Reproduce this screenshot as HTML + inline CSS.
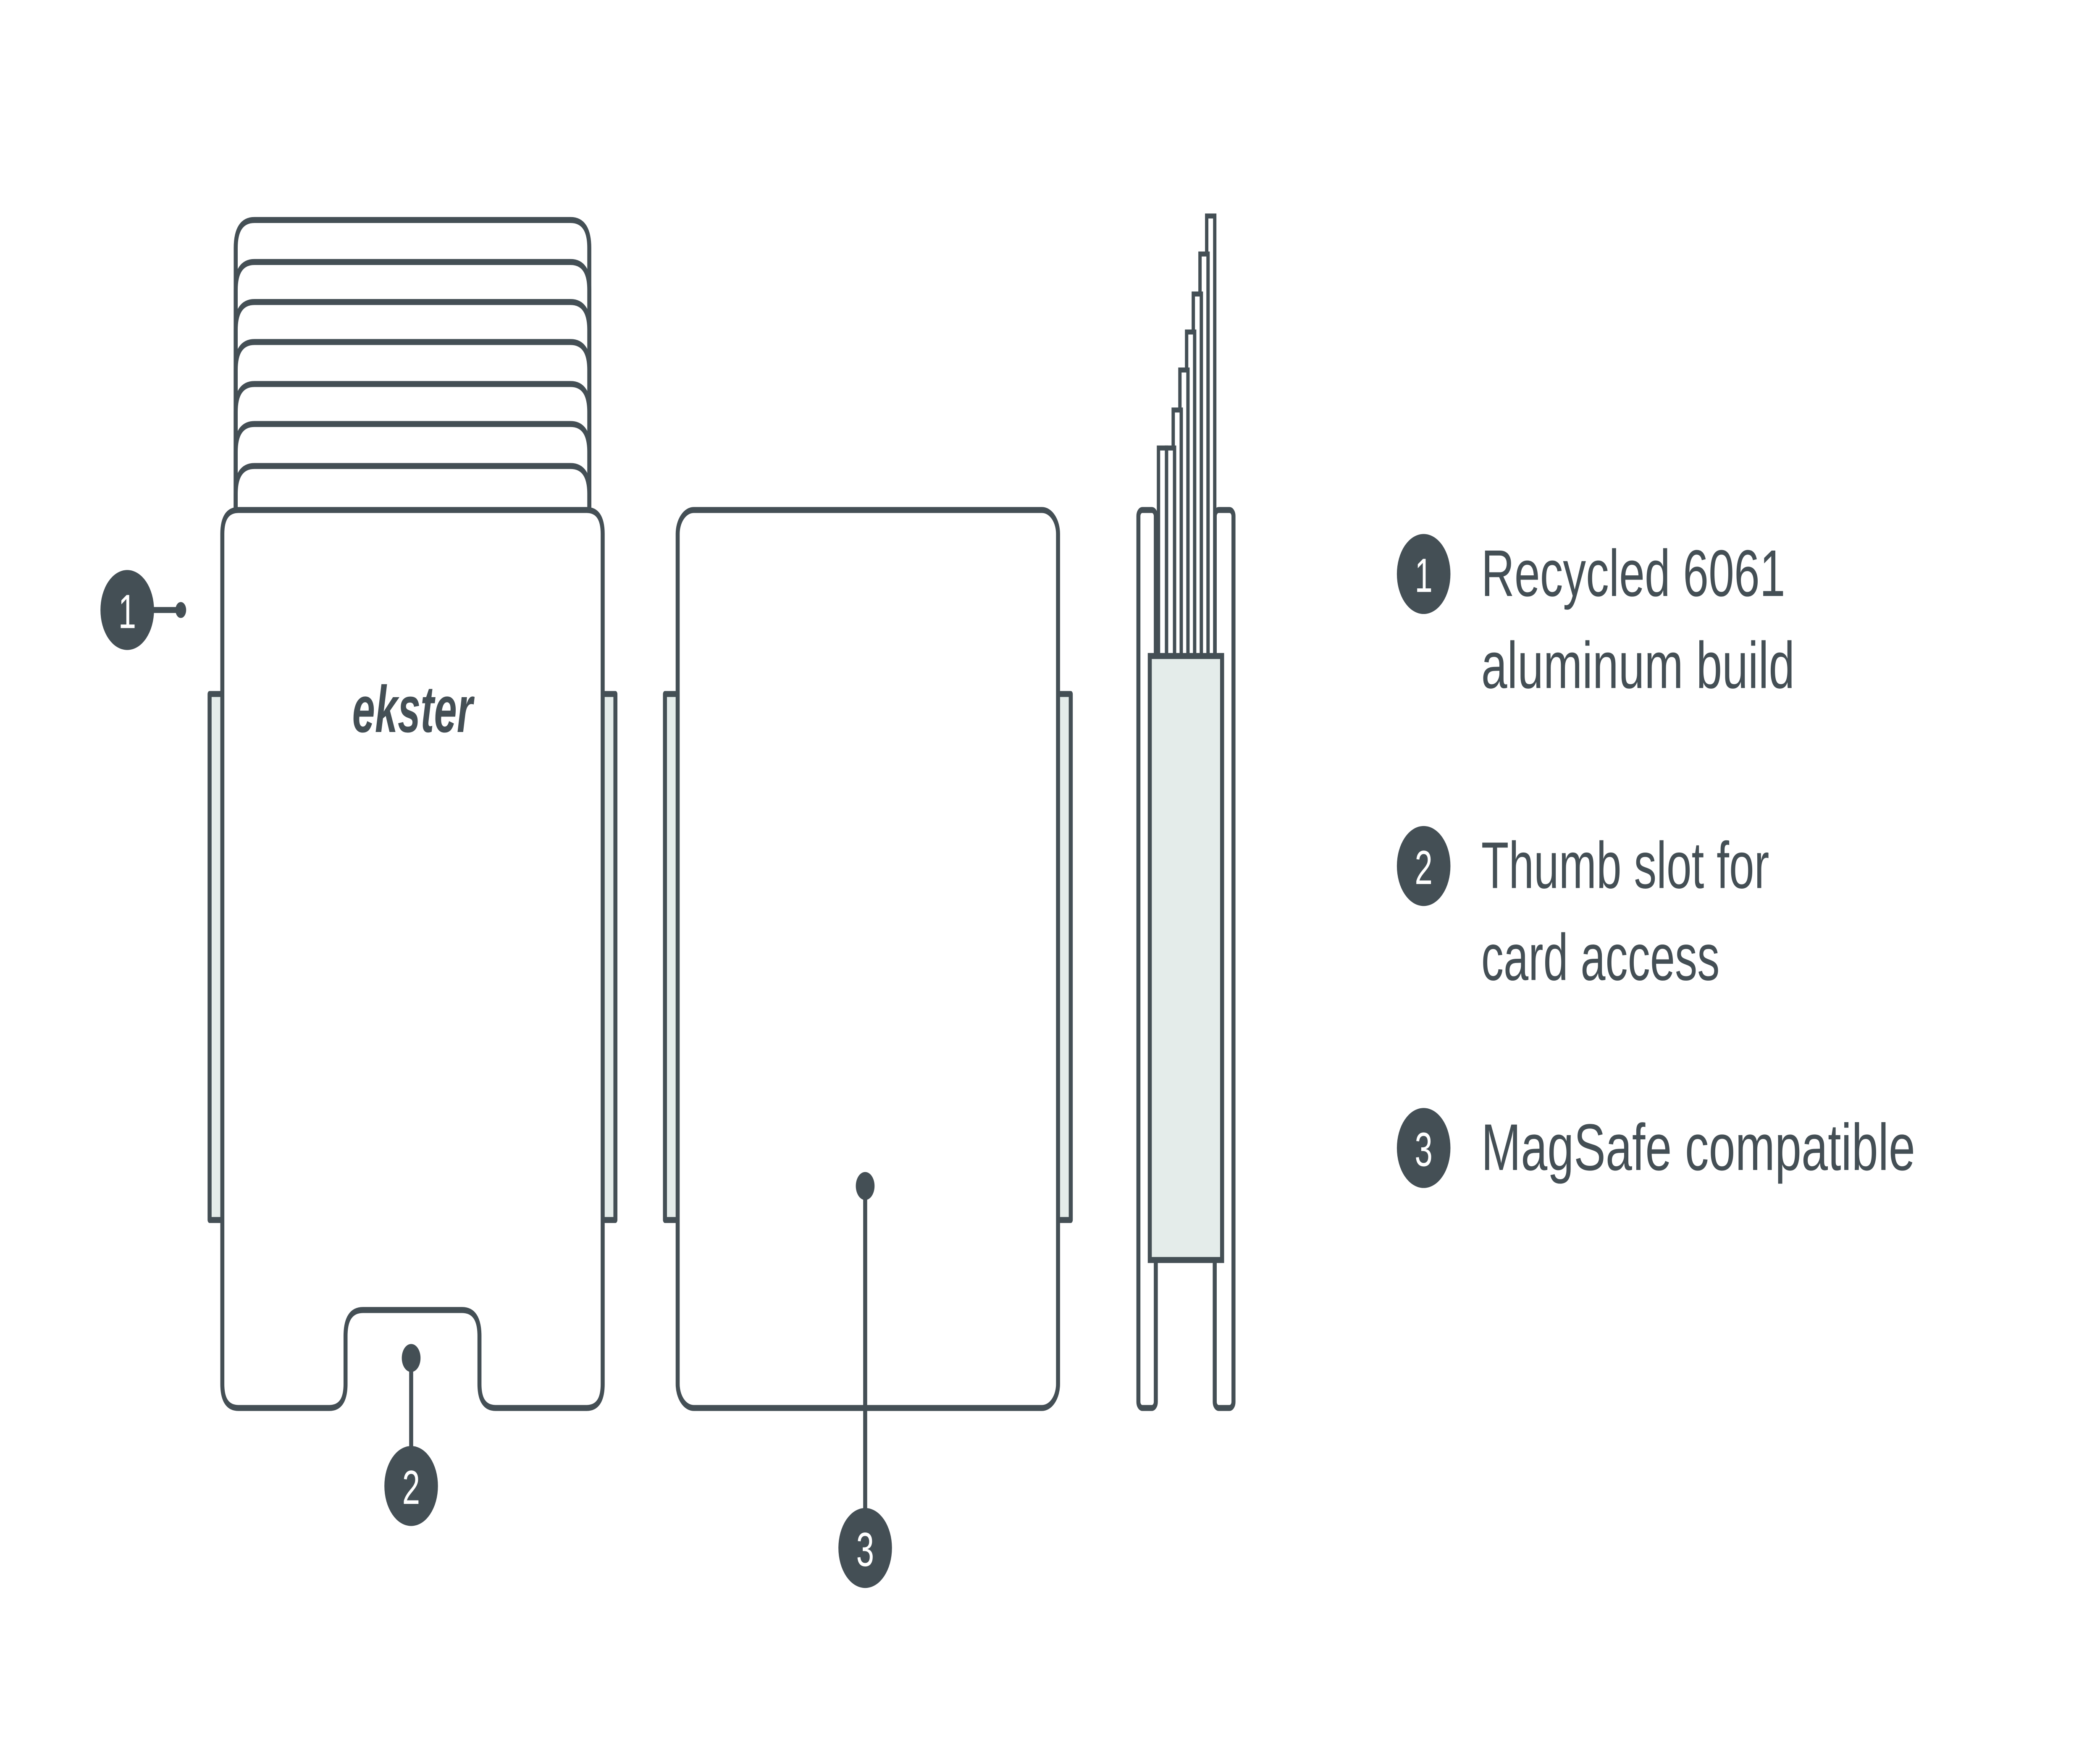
<!DOCTYPE html>
<html><head><meta charset="utf-8">
<style>html,body{margin:0;padding:0;background:#fff;overflow:hidden;width:100%;height:100%}svg{display:block;width:100vw;height:100vh}</style></head>
<body>
<svg viewBox="0 0 1568 875" preserveAspectRatio="none" xmlns="http://www.w3.org/2000/svg">
<g fill="none" stroke="#444f55" stroke-width="3" stroke-linejoin="round">
<rect x="156.5" y="347" width="10" height="263" fill="#e4ecea"/>
<rect x="449.5" y="347" width="10" height="263" fill="#e4ecea"/>
<path d="M176 300 V124 Q176 110 190 110 H426 Q440 110 440 124 V300" fill="#fff"/>
<path d="M176 300 V145 Q176 131 190 131 H426 Q440 131 440 145 V300" fill="#fff"/>
<path d="M176 300 V165 Q176 151 190 151 H426 Q440 151 440 165 V300" fill="#fff"/>
<path d="M176 300 V185 Q176 171 190 171 H426 Q440 171 440 185 V300" fill="#fff"/>
<path d="M176 300 V206 Q176 192 190 192 H426 Q440 192 440 206 V300" fill="#fff"/>
<path d="M176 300 V226 Q176 212 190 212 H426 Q440 212 440 226 V300" fill="#fff"/>
<path d="M176 300 V247 Q176 233 190 233 H426 Q440 233 440 247 V300" fill="#fff"/>
<path d="M178 255 H438 Q450 255 450 267 V692 Q450 704 438 704 H370 Q358 704 358 692 V668 Q358 655 345 655 H271 Q258 655 258 668 V692 Q258 704 246 704 H178 Q166 704 166 692 V267 Q166 255 178 255 Z" fill="#fff"/>
<rect x="496.5" y="347" width="10" height="263" fill="#e4ecea"/>
<rect x="789.5" y="347" width="10" height="263" fill="#e4ecea"/>
<rect x="506" y="255" width="284" height="449" rx="12" fill="#fff"/>
<rect x="850" y="255" width="13" height="449" rx="3" fill="#fff"/>
<rect x="907" y="255" width="14" height="449" rx="3" fill="#fff"/>
</g>
<g fill="#fff" stroke="#444f55" stroke-width="2.5">
<rect x="901" y="108" width="6" height="222"/>
<rect x="896" y="127" width="6" height="203"/>
<rect x="891" y="147" width="6" height="183"/>
<rect x="886" y="166" width="6" height="164"/>
<rect x="881" y="185" width="6" height="145"/>
<rect x="876" y="205" width="6" height="125"/>
<rect x="871" y="224" width="6" height="106"/>
<rect x="865" y="224" width="6" height="106"/>
</g>
<rect x="858.5" y="328" width="54" height="302" fill="#e4ecea" stroke="#444f55" stroke-width="3"/>
<text x="263" y="366" font-family="Liberation Sans, sans-serif" font-weight="bold" font-style="italic" font-size="33" fill="#444f55" textLength="90" lengthAdjust="spacingAndGlyphs">ekster</text>
<g stroke="#444f55" stroke-width="3">
<line x1="110" y1="305" x2="135" y2="305"/>
<line x1="307" y1="679" x2="307" y2="725"/>
<line x1="646" y1="593" x2="646" y2="756"/>
</g>
<g fill="#444f55">
<circle cx="135" cy="305" r="4"/>
<circle cx="307" cy="679" r="7"/>
<circle cx="646" cy="593" r="7"/>
<circle cx="95" cy="305" r="20"/>
<circle cx="307" cy="743" r="20"/>
<circle cx="646" cy="774" r="20"/>
<circle cx="1063" cy="287" r="20"/>
<circle cx="1063" cy="433" r="20"/>
<circle cx="1063" cy="574" r="20"/>
</g>
<g font-family="Liberation Sans, sans-serif" font-size="24" fill="#fff" text-anchor="middle">
<text x="95" y="314">1</text>
<text x="307" y="752">2</text>
<text x="646" y="783">3</text>
<text x="1063" y="296">1</text>
<text x="1063" y="442">2</text>
<text x="1063" y="583">3</text>
</g>
<g font-family="Liberation Sans, sans-serif" font-size="33" fill="#444f55">
<text x="1106" y="298" textLength="227" lengthAdjust="spacingAndGlyphs">Recycled 6061</text>
<text x="1106" y="344" textLength="234" lengthAdjust="spacingAndGlyphs">aluminum build</text>
<text x="1106" y="444" textLength="215" lengthAdjust="spacingAndGlyphs">Thumb slot for</text>
<text x="1106" y="490" textLength="178" lengthAdjust="spacingAndGlyphs">card access</text>
<text x="1106" y="585" textLength="324" lengthAdjust="spacingAndGlyphs">MagSafe compatible</text>
</g>
</svg>
</body></html>
